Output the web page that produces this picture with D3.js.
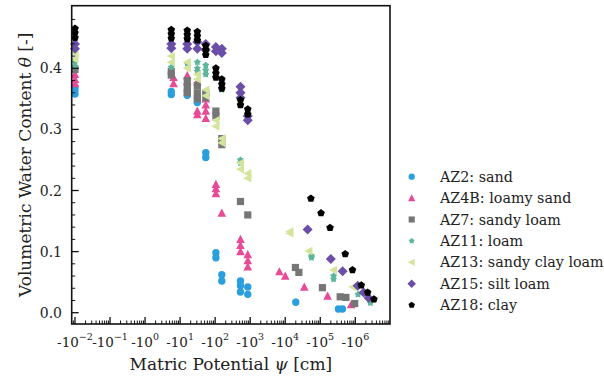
<!DOCTYPE html>
<html>
<head>
<meta charset="utf-8">
<script src="https://cdn.jsdelivr.net/npm/d3@7"></script>
<style>
  body { margin: 0; background: #fff; }
</style>
</head>
<body>
<div id="chart"></div>
<script>
// matric potential magnitudes |psi| [cm] and water contents for each soil
const psi_AZ2   = [0.01,0.01,0.01, 5.6,5.6, 16,16, 31,31, 54,54, 105,105, 155,155, 528,528,528, 853,853, 20000, 330000, 430000];
const theta_AZ2 = [0.370,0.364,0.358, 0.362,0.357, 0.362,0.356, 0.350,0.344, 0.262,0.254, 0.098,0.090, 0.062,0.052, 0.052,0.044,0.034, 0.042,0.030, 0.017, 0.006, 0.006];

const psi_AZ4B   = [0.01,0.01,0.01, 6.5,6.5, 16,16, 31,31,31, 54,54,54,54, 105,105,105, 155, 528,528,528, 853,853,853, 6800, 10000, 35000, 162000, 760000];
const theta_AZ4B = [0.390,0.382,0.375, 0.385,0.375, 0.388,0.378, 0.378,0.330,0.324, 0.350,0.340,0.330,0.318, 0.210,0.203,0.195, 0.163, 0.120,0.110,0.100, 0.095,0.085,0.075, 0.067, 0.060, 0.042, 0.027, 0.013];

const psi_AZ7   = [0.01, 5.6,5.6, 16,16,16, 31,31,31, 54,54, 105,105, 155,155, 528, 853, 19500, 24500, 115000, 370000, 540000, 960000];
const theta_AZ7 = [0.398, 0.395,0.389, 0.380,0.370,0.360, 0.372,0.360,0.350, 0.360,0.352, 0.330,0.322, 0.285,0.275, 0.182, 0.160, 0.074, 0.066, 0.041, 0.026, 0.025, 0.015];

const psi_AZ11   = [0.01,0.01, 5.6, 16, 31,31,31, 54,54,54, 155, 528,528, 56000,56000, 240000,240000, 1200000, 2700000];
const theta_AZ11 = [0.410,0.403, 0.402, 0.408, 0.410,0.400,0.395, 0.405,0.397,0.390, 0.365, 0.250,0.245, 0.093,0.090, 0.060,0.055, 0.030, 0.016];

const psi_AZ13   = [0.01,0.01, 5.6,5.6, 16,16, 31,31, 54,54, 105,105, 155,155, 528,528, 853,853, 13500,13500, 47000, 240000, 850000];
const theta_AZ13 = [0.425,0.415, 0.420,0.410, 0.410,0.400, 0.390,0.382, 0.365,0.355, 0.315,0.305, 0.285,0.278, 0.245,0.235, 0.228,0.220, 0.133,0.130, 0.101, 0.070, 0.042];

const psi_AZ15   = [0.01,0.01, 5.6,5.6, 16,16, 31,31, 54,54, 105,105, 155,155, 528,528,528, 853,853, 43500, 200000, 435000, 1170000, 1730000, 2400000];
const theta_AZ15 = [0.440,0.432, 0.440,0.433, 0.440,0.432, 0.443,0.432, 0.440,0.430, 0.435,0.428, 0.432,0.425, 0.370,0.360,0.352, 0.322,0.315, 0.136, 0.088, 0.068, 0.044, 0.033, 0.024];

const psi_AZ18   = [0.01,0.01,0.01, 5.6,5.6,5.6, 16,16,16, 31,31,31, 54,54,54, 105,105,105, 155,155,155, 528,528, 853,853, 54000, 105000, 190000, 515000, 830000, 1480000, 2250000, 3400000];
const theta_AZ18 = [0.465,0.458,0.450, 0.463,0.456,0.449, 0.462,0.455,0.448, 0.460,0.453,0.446, 0.437,0.430,0.422, 0.400,0.392,0.385, 0.382,0.374,0.367, 0.348,0.340, 0.333,0.325, 0.187, 0.163, 0.139, 0.096, 0.070, 0.045, 0.033, 0.022];

const seriesNames = ["AZ2: sand", "AZ4B: loamy sand", "AZ7: sandy loam", "AZ11: loam", "AZ13: sandy clay loam", "AZ15: silt loam", "AZ18: clay"];
const seriesColors = ["#2a9fdd", "#e84a98", "#767676", "#5db69b", "#d4e49c", "#6b4ea8", "#000000"];
const seriesMarkers = ["circle", "triangle", "square", "star", "left", "diamond", "pentagon"];

const xTickExps = [-2, -1, 0, 1, 2, 3, 4, 5, 6];
const yTicks = [0.0, 0.1, 0.2, 0.3, 0.4];

const allPsi = [psi_AZ2, psi_AZ4B, psi_AZ7, psi_AZ11, psi_AZ13, psi_AZ15, psi_AZ18];
const allTheta = [theta_AZ2, theta_AZ4B, theta_AZ7, theta_AZ11, theta_AZ13, theta_AZ15, theta_AZ18];

const W = 604, H = 377;
const pLeft = 71.7, pRight = 390, pTop = 5.7, pBottom = 324;
const FONT = "DejaVu Serif";

const svg = d3.select("#chart").append("svg").attr("width", W).attr("height", H)
  .style("font-family", FONT);

const x = d3.scaleLog().domain([Math.pow(10, -2.094), Math.pow(10, 6.99)]).range([pLeft, pRight]);
const y = d3.scaleLinear().domain([-0.0185, 0.5025]).range([pBottom, pTop]);

// marker shapes
function markerPath(kind) {
  const p = d3.path();
  function poly(pts) {
    p.moveTo(pts[0][0], pts[0][1]);
    pts.slice(1).forEach(q => p.lineTo(q[0], q[1]));
    p.closePath();
  }
  if (kind === "circle") { p.arc(0, 0, 3.7, 0, 2 * Math.PI); }
  else if (kind === "triangle") { poly([[0, -4.6], [-4.3, 3.6], [4.3, 3.6]]); }
  else if (kind === "left") { poly([[-4.6, 0], [3.6, -4.3], [3.6, 4.3]]); }
  else if (kind === "square") { poly([[-3.6, -3.6], [3.6, -3.6], [3.6, 3.6], [-3.6, 3.6]]); }
  else if (kind === "diamond") { poly([[0, -5], [5, 0], [0, 5], [-5, 0]]); }
  else if (kind === "pentagon") {
    poly(d3.range(5).map(i => { const a = -Math.PI / 2 + i * 2 * Math.PI / 5; return [4 * Math.cos(a), 4 * Math.sin(a)]; }));
  } else if (kind === "star") {
    poly(d3.range(10).map(i => { const a = -Math.PI / 2 + i * Math.PI / 5; const r = i % 2 ? 2.4 : 3.8; return [r * Math.cos(a), r * Math.sin(a)]; }));
  }
  return p.toString();
}

// data points
allPsi.forEach((ps, si) => {
  const pts = ps.map((v, i) => [v, allTheta[si][i]]);
  svg.append("g").selectAll("path").data(pts).join("path")
    .attr("d", markerPath(seriesMarkers[si]))
    .attr("transform", d => `translate(${x(d[0])},${y(d[1])})`)
    .attr("fill", seriesColors[si]);
});

// frame
svg.append("rect").attr("x", pLeft).attr("y", pTop).attr("width", pRight - pLeft).attr("height", pBottom - pTop)
  .attr("fill", "none").attr("stroke", "#111").attr("stroke-width", 1.6);

// x ticks (inward)
const xMinor = [];
for (let e = -3; e <= 6; e++) for (let m = 2; m <= 9; m++) {
  const v = m * Math.pow(10, e);
  if (v > x.domain()[0] && v < x.domain()[1]) xMinor.push(v);
}
svg.append("g").selectAll("line").data(xMinor).join("line")
  .attr("x1", d => x(d)).attr("x2", d => x(d)).attr("y1", pBottom).attr("y2", pBottom - 3.5)
  .attr("stroke", "#111").attr("stroke-width", 1);
svg.append("g").selectAll("line").data(xTickExps).join("line")
  .attr("x1", d => x(Math.pow(10, d))).attr("x2", d => x(Math.pow(10, d))).attr("y1", pBottom).attr("y2", pBottom - 7)
  .attr("stroke", "#111").attr("stroke-width", 1.3);

const xl = svg.append("g").selectAll("text").data(xTickExps).join("text")
  .attr("x", d => x(Math.pow(10, d))).attr("y", 347)
  .attr("text-anchor", "middle").attr("font-size", 13.5).attr("fill", "#222");
xl.append("tspan").text("-10");
xl.append("tspan").attr("dy", -7).attr("font-size", 9.5).text(d => String(d).replace("-", "\u2212"));

// y ticks (inward)
const yMinor = d3.range(0, 0.5, 0.02).filter(v => Math.abs(v * 10 - Math.round(v * 10)) > 1e-6);
svg.append("g").selectAll("line").data(yMinor).join("line")
  .attr("x1", pLeft).attr("x2", pLeft + 3.5).attr("y1", d => y(d)).attr("y2", d => y(d))
  .attr("stroke", "#111").attr("stroke-width", 1);
svg.append("g").selectAll("line").data(yTicks).join("line")
  .attr("x1", pLeft).attr("x2", pLeft + 7).attr("y1", d => y(d)).attr("y2", d => y(d))
  .attr("stroke", "#111").attr("stroke-width", 1.3);
svg.append("g").selectAll("text").data(yTicks).join("text")
  .attr("x", 62).attr("y", d => y(d) + 5)
  .attr("text-anchor", "end").attr("font-size", 14).attr("fill", "#222")
  .text(d => d.toFixed(1));

// axis labels
const xlab = svg.append("text").attr("x", (pLeft + pRight) / 2).attr("y", 370)
  .attr("text-anchor", "middle").attr("font-size", 17).attr("fill", "#222");
xlab.append("tspan").text("Matric Potential ");
xlab.append("tspan").attr("font-style", "italic").text("\u03c8");
xlab.append("tspan").text(" [cm]");

const ylab = svg.append("text").attr("transform", `translate(31,${(pTop + pBottom) / 2}) rotate(-90)`)
  .attr("text-anchor", "middle").attr("font-size", 17).attr("fill", "#222");
ylab.append("tspan").text("Volumetric Water Content ");
ylab.append("tspan").attr("font-style", "italic").text("\u03b8");
ylab.append("tspan").text(" [-]");

// legend
const leg = svg.append("g").selectAll("g").data(seriesNames).join("g")
  .attr("transform", (d, i) => `translate(0,${176.7 + i * 21.4})`);
leg.append("path").attr("d", (d, i) => markerPath(seriesMarkers[i]))
  .attr("transform", "translate(411.7,0) scale(0.85)")
  .attr("fill", (d, i) => seriesColors[i]);
leg.append("text").attr("x", 440).attr("y", 5).attr("font-size", 14.3).attr("fill", "#222").text(d => d);
</script>
</body>
</html>
